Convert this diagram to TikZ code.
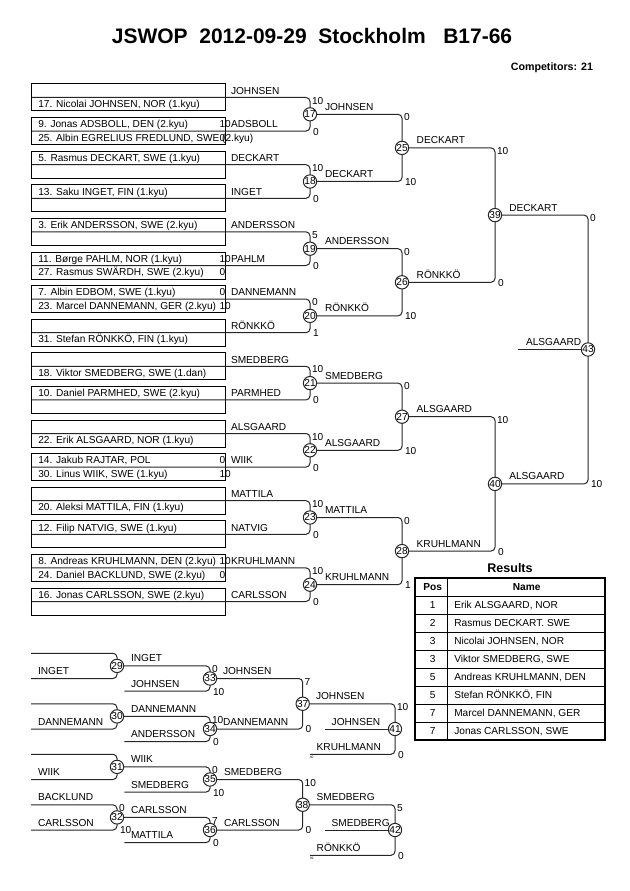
\documentclass[tikz,border=0pt]{standalone}
\usepackage{fontspec}
\setmainfont{Liberation Sans}
\begin{document}
\begin{tikzpicture}[x=0.75pt,y=-0.75pt,
  every node/.style={inner sep=0pt, outer sep=0pt, font=\fontsize{7.6}{9}\selectfont},
  ln/.style={draw=black!85, line width=0.75pt, rounded corners=3pt},
  boxline/.style={draw=black, line width=0.75pt},
  mc/.style={circle, draw=black!85, fill=white, line width=0.75pt, minimum size=9.75pt, font=\fontsize{7.6}{9}\selectfont},
  lab/.style={anchor=base west},
  sc/.style={anchor=west},
  tinytxt/.style={font=\fontsize{2.5}{3}\selectfont},
  hd/.style={font=\bfseries\fontsize{7.6}{9}\selectfont, anchor=base},
]
\useasboundingbox (0,0) rectangle (630,891);

% Title
\node[font=\bfseries\fontsize{15.75}{18}\selectfont] (title) at (312,35.5) {JSWOP\ \ 2012-09-29\ \ Stockholm\ \ \ B17-66};
\node[font=\bfseries\fontsize{8}{10}\selectfont, anchor=base east] (comp) at (593,70.5) {Competitors: 21};

% Pool boxes
\foreach \k/\pA/\sA/\pB/\sB/\wn in {
 0/{}/{}/{17. Nicolai JOHNSEN, NOR (1.kyu)}/{}/JOHNSEN,
 1/{9. Jonas ADSBOLL, DEN (2.kyu)}/10/{25. Albin EGRELIUS FREDLUND, SWE (2.kyu)}/0/ADSBOLL,
 2/{5. Rasmus DECKART, SWE (1.kyu)}/{}/{}/{}/DECKART,
 3/{13. Saku INGET, FIN (1.kyu)}/{}/{}/{}/INGET,
 4/{3. Erik ANDERSSON, SWE (2.kyu)}/{}/{}/{}/ANDERSSON,
 5/{11. Børge PAHLM, NOR (1.kyu)}/10/{27. Rasmus SWÄRDH, SWE (2.kyu)}/0/PAHLM,
 6/{7. Albin EDBOM, SWE (1.kyu)}/0/{23. Marcel DANNEMANN, GER (2.kyu)}/10/DANNEMANN,
 7/{}/{}/{31. Stefan RÖNKKÖ, FIN (1.kyu)}/{}/RÖNKKÖ,
 8/{}/{}/{18. Viktor SMEDBERG, SWE (1.dan)}/{}/SMEDBERG,
 9/{10. Daniel PARMHED, SWE (2.kyu)}/{}/{}/{}/PARMHED,
 10/{}/{}/{22. Erik ALSGAARD, NOR (1.kyu)}/{}/ALSGAARD,
 11/{14. Jakub RAJTAR, POL}/0/{30. Linus WIIK, SWE (1.kyu)}/10/WIIK,
 12/{}/{}/{20. Aleksi MATTILA, FIN (1.kyu)}/{}/MATTILA,
 13/{12. Filip NATVIG, SWE (1.kyu)}/{}/{}/{}/NATVIG,
 14/{8. Andreas KRUHLMANN, DEN (2.kyu)}/10/{24. Daniel BACKLUND, SWE (2.kyu)}/0/KRUHLMANN,
 15/{16. Jonas CARLSSON, SWE (2.kyu)}/{}/{}/{}/CARLSSON}{
  \pgfmathsetmacro\T{84+33.6*\k}
  \draw[boxline] (31.5,\T) rectangle (225,\T+27);
  \coordinate (g\k) at (31.5,\T+13.5);
  \node[lab] (na\k) at (38.3,\T+10.25) {\pA};
  \node[lab] (nb\k) at (38.3,\T+23.75) {\pB};
  \node[lab] (sa\k) at (219.5,\T+10.25) {\sA};
  \node[lab] (sb\k) at (219.5,\T+23.75) {\sB};
  \node[lab] (w\k) at (231,\T+10.25) {\wn};
}

% Round 1
\foreach \jj in {0,...,7}{
  \pgfmathtruncatemacro\m{17+\jj}
  \pgfmathtruncatemacro\ia{2*\jj}
  \pgfmathtruncatemacro\ib{2*\jj+1}
  \pgfmathsetmacro\yc{114.3+67.2*\jj}
  \coordinate (c\m) at (310,\yc);
  \draw[ln] (g\ia) -| (c\m) |- (g\ib);
}
% Round 2
\foreach \jj in {0,...,3}{
  \pgfmathtruncatemacro\m{25+\jj}
  \pgfmathtruncatemacro\ia{17+2*\jj}
  \pgfmathtruncatemacro\ib{18+2*\jj}
  \pgfmathsetmacro\yc{147.9+134.4*\jj}
  \coordinate (c\m) at (402,\yc);
  \draw[ln] (c\ia) -| (c\m) |- (c\ib);
}
% Semis and final
\coordinate (c39) at (495,215.1);
\coordinate (c40) at (495,483.9);
\draw[ln] (c25) -| (c39) |- (c26);
\draw[ln] (c27) -| (c40) |- (c28);
\coordinate (c43) at (588,349.5);
\draw[ln] (c39) -| (c43) |- (c40);
\coordinate (fin) at (518,349.5);
\draw[ln] (c43) -- (fin);

% Repechage
\foreach \k in {0,...,3}{
  \pgfmathtruncatemacro\m{29+\k}
  \pgfmathtruncatemacro\n{33+\k}
  \pgfmathsetmacro\ya{653.3+50.5*\k}
  \coordinate (ta\k) at (31,\ya);
  \coordinate (tb\k) at (31,\ya+25.2);
  \coordinate (c\m) at (117,\ya+12.6);
  \draw[ln] (ta\k) -| (c\m) |- (tb\k);
  \coordinate (c\n) at (210,\ya+25.2);
  \coordinate (q\n) at (124.3,\ya+37.8);
  \draw[ln] (c\m) -| (c\n) |- (q\n);
}
\coordinate (c37) at (302.7,703.75);
\draw[ln] (c33) -| (c37) |- (c34);
\coordinate (c38) at (302.7,804.75);
\draw[ln] (c35) -| (c38) |- (c36);
\coordinate (c41) at (395,729);
\coordinate (q41) at (310,754.3);
\coordinate (p41) at (325,729);
\draw[ln] (c37) -| (c41) |- (q41);
\draw[ln] (c41) -- (p41);
\coordinate (c42) at (395,830);
\coordinate (q42) at (310,855.3);
\coordinate (p42) at (325,830);
\draw[ln] (c38) -| (c42) |- (q42);
\draw[ln] (c42) -- (p42);

% Match circles
\foreach \m in {17,...,43}{
  \node[mc] (m\m) at (c\m) {\m};
}

% Scores
\foreach \m/\x/\yt/\yb/\scT/\scB in {
 17/310/97.5/131.1/10/0, 18/310/164.7/198.3/10/0, 19/310/231.9/265.5/5/0,
 20/310/299.1/332.7/0/1, 21/310/366.3/399.9/10/0, 22/310/433.5/467.1/10/0,
 23/310/500.7/534.3/10/0, 24/310/567.9/601.5/10/0,
 25/402/114.3/181.5/0/10, 26/402/248.7/315.9/0/10, 27/402/383.1/450.3/0/10,
 28/402/517.5/584.7/0/1,
 39/495/147.9/282.3/10/0, 40/495/416.7/551.1/10/0, 43/588/215.1/483.9/0/10,
 32/117/804.8/830/0/10, 33/210/665.9/691.1/0/10, 34/210/716.4/741.6/10/0,
 35/210/766.9/792.1/0/10, 36/210/817.4/842.6/7/0, 37/302.7/678.5/729/7/0,
 38/302.7/779.5/830/10/0, 41/395/703.75/754.3/10/0, 42/395/804.75/855.3/5/0}{
  \node[sc] (st\m) at (\x+2,\yt+3.2) {\scT};
  \node[sc] (sd\m) at (\x+3,\yb+0.5) {\scB};
}

% Winner labels
\foreach \x/\y/\txt [count=\i] in {
 325/114.3/JOHNSEN, 325/181.5/DECKART, 325/248.7/ANDERSSON, 325/315.9/RÖNKKÖ,
 325/383.1/SMEDBERG, 325/450.3/ALSGAARD, 325/517.5/MATTILA, 325/584.7/KRUHLMANN,
 416.7/147.9/DECKART, 416.7/282.3/RÖNKKÖ, 416.7/416.7/ALSGAARD, 416.7/551.1/KRUHLMANN,
 509.3/215.1/DECKART, 509.3/483.9/ALSGAARD, 526/349.5/ALSGAARD,
 38/678.5/INGET, 131/665.9/INGET, 131/691.1/JOHNSEN, 223/678.5/JOHNSEN,
 38/729/DANNEMANN, 131/716.4/DANNEMANN, 131/741.6/ANDERSSON, 223/729/DANNEMANN,
 316/703.75/JOHNSEN, 316.7/754.3/KRUHLMANN, 331.7/729/JOHNSEN,
 38/779.5/WIIK, 131/766.9/WIIK, 131/792.1/SMEDBERG, 224/779.5/SMEDBERG,
 38/804.8/BACKLUND, 38/830/CARLSSON, 131/817.4/CARLSSON, 131/842.6/MATTILA,
 224/830/CARLSSON, 316.7/804.75/SMEDBERG, 331.7/830/SMEDBERG, 316.7/855.3/RÖNKKÖ}{
  \node[lab] (ol\i) at (\x,\y-4) {\txt};
}
\node[tinytxt] (t40) at (311.7,757.5) {40};
\node[tinytxt] (t39) at (311.7,858.5) {39};

% Results table
\node[font=\bfseries\fontsize{9.4}{11}\selectfont, anchor=base] (restitle) at (510,572.5) {Results};
\foreach \r in {1,...,8}{
  \draw[line width=0.75pt] (415,578+18*\r) -- (605,578+18*\r);
}
\draw[line width=0.75pt] (447.3,578) -- (447.3,740);
\draw[line width=1.5pt] (415,578) rectangle (605,740);
\node[hd] (hpos) at (432.7,590.5) {Pos};
\node[hd] (hname) at (526.7,590.5) {Name};
\foreach \ps/\nm [count=\i] in {1/{Erik ALSGAARD, NOR}, 2/{Rasmus DECKART. SWE},
  3/{Nicolai JOHNSEN, NOR}, 3/{Viktor SMEDBERG, SWE}, 5/{Andreas KRUHLMANN, DEN},
  5/{Stefan RÖNKKÖ, FIN}, 7/{Marcel DANNEMANN, GER}, 7/{Jonas CARLSSON, SWE}}{
  \pgfmathsetmacro\yy{596+18*(\i-1)+12.5}
  \node[anchor=base] (rp\i) at (432.7,\yy) {\ps};
  \node[anchor=base west] (rn\i) at (454.3,\yy) {\nm};
}
\end{tikzpicture}
\end{document}
